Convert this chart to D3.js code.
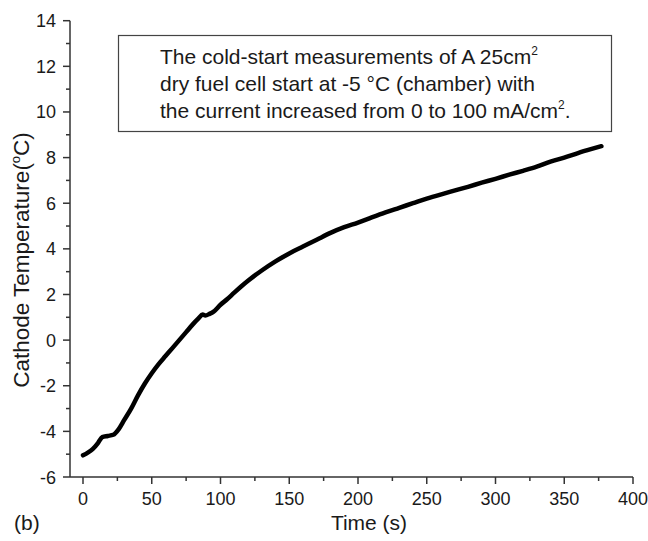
<!DOCTYPE html>
<html>
<head>
<meta charset="utf-8">
<script src="https://cdn.jsdelivr.net/npm/d3@7"></script>
<style>
  body { margin: 0; background: #fff; }
  text { font-family: "Liberation Sans", Arial, sans-serif; fill: #1a1a1a; }
</style>
</head>
<body>
<script>
// data
var times = [0, 3, 7, 11, 14, 18, 22, 26, 30, 35, 40, 45, 50, 55, 60, 65, 70, 75, 80, 84,
             87, 89, 92, 95, 100, 105, 110, 115, 120, 130, 140, 150, 160, 170, 180, 190,
             200, 210, 220, 230, 240, 250, 260, 270, 280, 290, 300, 310, 320, 330, 340,
             350, 360, 370, 377];
var temps = [-5.05, -4.95, -4.78, -4.5, -4.25, -4.2, -4.15, -3.9, -3.5, -3.0, -2.42, -1.9,
             -1.45, -1.05, -0.7, -0.35, 0.0, 0.35, 0.7, 0.95, 1.12, 1.08, 1.15, 1.25, 1.55,
             1.8, 2.08, 2.35, 2.6, 3.05, 3.45, 3.8, 4.1, 4.4, 4.7, 4.95, 5.15, 5.38, 5.6,
             5.8, 6.0, 6.2, 6.38, 6.55, 6.72, 6.9, 7.07, 7.25, 7.42, 7.6, 7.82, 8.0, 8.2,
             8.38, 8.5];
var xTicks = [0, 50, 100, 150, 200, 250, 300, 350, 400];
var yTicks = [-6, -4, -2, 0, 2, 4, 6, 8, 10, 12, 14];
var noteLines = ["The cold-start measurements of A 25cm", "dry fuel cell start at -5 \u00B0C (chamber) with",
                 "the current increased from 0 to 100 mA/cm"];

var width = 648, height = 541;
var x0 = 83, x1 = 633, yTop = 20.7, yBot = 477;
var axisX = 70;

var svg = d3.select("body").append("svg")
  .attr("width", width)
  .attr("height", height);

var x = d3.scaleLinear().domain([0, 400]).range([x0, x1]);
var y = d3.scaleLinear().domain([-6, 14]).range([yBot, yTop]);

var axisColor = "#333";

// x axis line (starts at y axis)
svg.append("line")
  .attr("x1", axisX).attr("x2", x(400))
  .attr("y1", yBot).attr("y2", yBot)
  .attr("stroke", axisColor).attr("stroke-width", 1.5);

// y axis line
svg.append("line")
  .attr("x1", axisX).attr("x2", axisX)
  .attr("y1", y(14)).attr("y2", yBot)
  .attr("stroke", axisColor).attr("stroke-width", 1.5);

// x ticks
var xMinor = d3.range(25, 400, 50);
svg.selectAll(".xmaj").data(xTicks).enter().append("line")
  .attr("x1", function(d) { return x(d); }).attr("x2", function(d) { return x(d); })
  .attr("y1", yBot).attr("y2", yBot + 7)
  .attr("stroke", axisColor).attr("stroke-width", 1.5);
svg.selectAll(".xmin").data(xMinor).enter().append("line")
  .attr("x1", function(d) { return x(d); }).attr("x2", function(d) { return x(d); })
  .attr("y1", yBot).attr("y2", yBot + 4)
  .attr("stroke", axisColor).attr("stroke-width", 1.5);
svg.selectAll(".xlab").data(xTicks).enter().append("text")
  .attr("x", function(d) { return x(d); })
  .attr("y", 505)
  .attr("text-anchor", "middle")
  .style("font-size", "18px")
  .text(function(d) { return d; });

// y ticks
var yMinor = d3.range(-5, 14, 2);
svg.selectAll(".ymaj").data(yTicks).enter().append("line")
  .attr("x1", axisX - 7).attr("x2", axisX)
  .attr("y1", function(d) { return y(d); }).attr("y2", function(d) { return y(d); })
  .attr("stroke", axisColor).attr("stroke-width", 1.5);
svg.selectAll(".ymin").data(yMinor).enter().append("line")
  .attr("x1", axisX - 4).attr("x2", axisX)
  .attr("y1", function(d) { return y(d); }).attr("y2", function(d) { return y(d); })
  .attr("stroke", axisColor).attr("stroke-width", 1.5);
svg.selectAll(".ylab").data(yTicks).enter().append("text")
  .attr("x", 56)
  .attr("y", function(d) { return y(d) + 6.5; })
  .attr("text-anchor", "end")
  .style("font-size", "18px")
  .text(function(d) { return d; });

// axis titles
svg.append("text")
  .attr("x", 369).attr("y", 530)
  .attr("text-anchor", "middle")
  .style("font-size", "21px")
  .text("Time (s)");

var yt = svg.append("text")
  .attr("transform", "translate(29," + 260 + ") rotate(-90)")
  .attr("text-anchor", "middle")
  .style("font-size", "22.5px");
yt.append("tspan").text("Cathode Temperature(");
yt.append("tspan").attr("dy", -9).style("font-size", "13px").text("o");
yt.append("tspan").attr("dy", 9).text("C)");

svg.append("text")
  .attr("x", 14).attr("y", 530)
  .style("font-size", "21px")
  .text("(b)");

// note box
svg.append("rect")
  .attr("x", 118.5).attr("y", 35.5)
  .attr("width", 493).attr("height", 96)
  .attr("fill", "none")
  .attr("stroke", "#444").attr("stroke-width", 1.2);

var notes = svg.selectAll(".note").data(noteLines).enter().append("text")
  .attr("x", 160)
  .attr("y", function(d, i) { return 64 + i * 27; })
  .style("font-size", "21px");
notes.append("tspan").text(function(d) { return d; });
notes.filter(function(d, i) { return i !== 1; }).append("tspan")
  .attr("dy", -9).style("font-size", "12px").text("2");
notes.filter(function(d, i) { return i === 2; }).append("tspan")
  .attr("dy", 9).text(".");

// curve
var pts = times.map(function(t, i) { return [t, temps[i]]; });
var line = d3.line()
  .x(function(d) { return x(d[0]); })
  .y(function(d) { return y(d[1]); })
  .curve(d3.curveMonotoneX);

svg.append("path")
  .datum(pts)
  .attr("d", line)
  .attr("fill", "none")
  .attr("stroke", "#000")
  .attr("stroke-width", 4.5)
  .attr("stroke-linecap", "round")
  .attr("stroke-linejoin", "round");
</script>
</body>
</html>
